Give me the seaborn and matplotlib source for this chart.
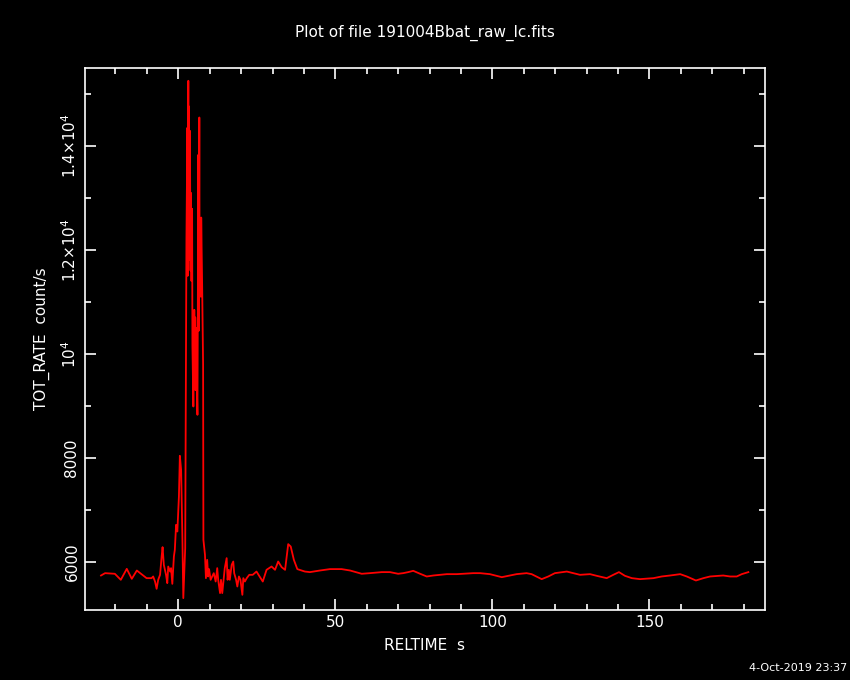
import matplotlib
matplotlib.use("Agg")
import matplotlib.pyplot as plt
import seaborn as sns
from matplotlib.ticker import MultipleLocator, FuncFormatter

# light curve (RELTIME s, TOT_RATE count/s)
reltime = [-24.6, -23.3, -20.2, -18.3, -16.4, -14.8, -13.2, -10.1, -8.5, -8.0,
           -7.4, -6.9, -6.4, -5.8, -5.3, -5.0, -4.6, -3.9, -3.5, -3.2,
           -2.6, -2.3, -1.9, -1.4, -1.1, -0.7, -0.3, 0.2, 0.5, 0.9,
           1.3, 1.6, 1.9, 2.2, 2.6, 2.9, 3.0, 3.2, 3.3, 3.4,
           3.6, 3.7, 3.9, 4.0, 4.2, 4.4, 4.5, 4.8, 5.1, 5.3,
           5.4, 5.5, 5.6, 5.8, 6.1, 6.4, 6.5, 6.7, 6.8, 7.0,
           7.2, 7.3, 7.6, 7.9, 8.0, 8.5, 8.8, 9.2, 9.5, 9.8,
           10.3, 10.8, 11.3, 11.9, 12.4, 12.7, 13.3, 13.6, 14.0, 14.5,
           14.8, 15.4, 15.7, 16.1, 16.4, 17.0, 17.5, 17.8, 18.4, 18.8,
           19.3, 19.8, 20.4, 20.7, 21.2, 21.8, 22.6, 23.7, 24.9, 26.9,
           28.1, 29.7, 30.8, 31.8, 32.9, 34.0, 35.0, 35.8, 36.8, 37.9,
           40.3, 41.9, 45.1, 48.3, 52.0, 54.7, 58.4, 61.0, 64.8, 67.4,
           70.0, 71.6, 73.2, 74.8, 77.0, 79.1, 81.2, 85.5, 88.7, 93.9,
           96.1, 99.2, 103.0, 105.1, 107.7, 110.9, 112.5, 115.7, 117.8, 119.9,
           123.7, 125.8, 127.9, 131.1, 133.2, 136.4, 138.5, 140.3, 142.2, 144.4,
           147.0, 151.3, 153.9, 156.6, 159.8, 161.9, 164.8, 167.2, 169.3, 173.5,
           175.7, 177.8, 179.4, 181.5]
tot_rate = [5737, 5782, 5770, 5654, 5865, 5673, 5833, 5686, 5686, 5718,
            5621, 5481, 5654, 5750, 6102, 6283, 5942, 5750, 5590, 5910,
            5813, 5879, 5577, 6102, 6231, 6712, 6583, 7256, 8038, 7769,
            6487, 5302, 5782, 6263, 12211, 14346, 11500, 15250, 11800, 14756,
            12000, 14288, 11600, 13096, 11400, 12789, 10160, 8987, 10846, 9500,
            10700, 9300, 10500, 9700, 8827, 13827, 10442, 14544, 11100, 12365,
            11100, 12620, 11294, 9788, 6423, 6135, 5686, 6038, 5718, 5860,
            5654, 5718, 5782, 5621, 5879, 5654, 5398, 5654, 5398, 5686,
            5879, 6071, 5654, 5846, 5654, 5942, 6006, 5782, 5654, 5525,
            5718, 5654, 5365, 5686, 5621, 5686, 5750, 5750, 5813, 5621,
            5846, 5910, 5846, 6006, 5898, 5846, 6340, 6294, 6038, 5860,
            5813, 5802, 5833, 5860, 5860, 5833, 5770, 5782, 5802, 5802,
            5770, 5782, 5802, 5827, 5770, 5718, 5737, 5763, 5763, 5782,
            5782, 5763, 5705, 5731, 5763, 5782, 5763, 5667, 5718, 5782,
            5813, 5782, 5750, 5763, 5731, 5686, 5750, 5802, 5731, 5686,
            5667, 5686, 5718, 5737, 5763, 5718, 5641, 5686, 5718, 5737,
            5718, 5718, 5763, 5802]

ytick_text = {6000: "6000", 8000: "8000", 10000: "10$^4$",
              12000: "1.2×10$^4$", 14000: "1.4×10$^4$"}

plt.rcParams["font.family"] = "DejaVu Sans"
fig = plt.figure(figsize=(8.5, 6.8), dpi=100, facecolor="black")
ax = fig.add_axes([0.1, 0.1029, 0.8, 0.7971])
ax.set_facecolor("black")

sns.lineplot(x=reltime, y=tot_rate, sort=False, estimator=None,
             color="red", linewidth=1.3, ax=ax)

ax.set_xlim(-29.7, 186.8)
ax.set_ylim(5073, 15496)

ax.xaxis.set_major_locator(MultipleLocator(50))
ax.xaxis.set_minor_locator(MultipleLocator(10))
ax.yaxis.set_major_locator(MultipleLocator(2000))
ax.yaxis.set_minor_locator(MultipleLocator(1000))
ax.yaxis.set_major_formatter(FuncFormatter(lambda v, p: ytick_text.get(int(round(v)), "")))

ax.tick_params(which="both", direction="in", colors="white", labelcolor="white",
               top=True, right=True, width=1.2, labelsize=11)
ax.tick_params(which="major", length=8)
ax.tick_params(which="minor", length=4)
ax.tick_params(axis="y", labelrotation=90, pad=4)
for lab in ax.get_yticklabels():
    lab.set_va("center")
for sp in ax.spines.values():
    sp.set_color("white")
    sp.set_linewidth(1.2)

ax.set_xlabel("RELTIME  s", color="white", fontsize=11, labelpad=6)
ax.set_ylabel("TOT_RATE  count/s", color="white", fontsize=11, labelpad=8)
fig.text(0.5, 0.951, "Plot of file 191004Bbat_raw_lc.fits", color="white",
         fontsize=11, ha="center", va="center")
fig.text(0.997, 0.018, "4-Oct-2019 23:37", color="white", fontsize=8,
         ha="right", va="center")

fig.savefig("out.png", dpi=100, facecolor="black")
